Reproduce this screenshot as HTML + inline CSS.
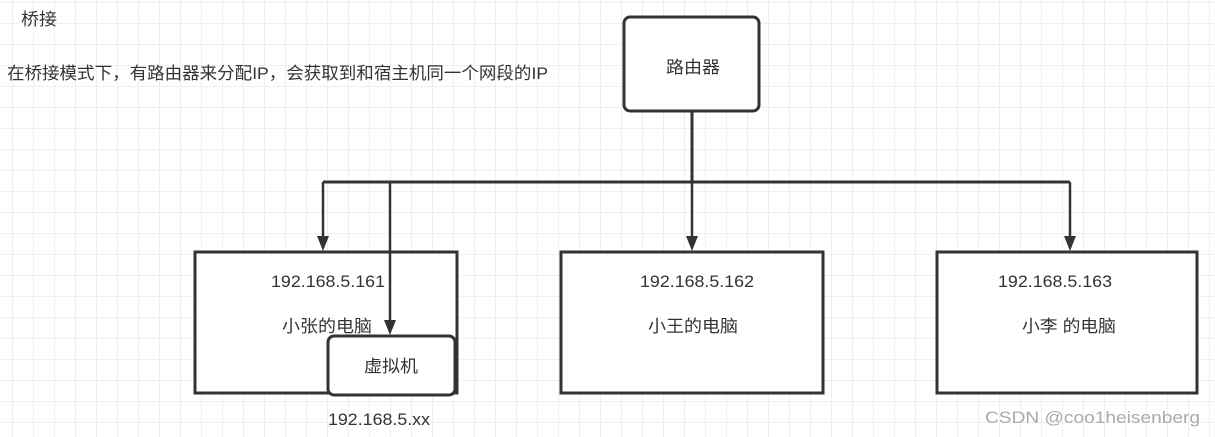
<!DOCTYPE html>
<html><head><meta charset="utf-8"><style>
body{margin:0;width:1215px;height:437px;overflow:hidden;background:#fff;font-family:"Liberation Sans","Noto Sans CJK SC",sans-serif;}
</style></head><body>
<svg width="1215" height="437" xmlns="http://www.w3.org/2000/svg" style="position:absolute;left:0;top:0">
<defs>
<pattern id="g" x="12" y="2" width="21" height="21" patternUnits="userSpaceOnUse">
<path d="M0 0H21M0 0V21" stroke="#e6e6e6" stroke-width="1.3" fill="none"/>
</pattern>
</defs>
<rect width="1215" height="437" fill="url(#g)"/>
<g fill="none" stroke="#333" stroke-width="3">
<rect x="195" y="252" width="262" height="141" fill="#fff"/>
<rect x="561" y="252" width="262" height="141" fill="#fff"/>
<rect x="937" y="252" width="260" height="141" fill="#fff"/>
<rect x="624" y="17" width="135" height="94" rx="6" fill="#fff"/>
<path d="M692 111V182"/>
<path d="M323 182H1070"/>
</g>
<g fill="none" stroke="#333" stroke-width="2.5">
<path d="M323 182V238"/>
<path d="M692 182V238"/>
<path d="M1070 182V238"/>
<path d="M390 182V321"/>
</g>
<g fill="#333">
<path d="M317 236H329L323 251Z"/>
<path d="M686 236H698L692 251Z"/>
<path d="M1064 236H1076L1070 251Z"/>
<path d="M384 320H396L390 335Z"/>
</g>
<rect x="328" y="336" width="127" height="59" rx="6" fill="#fff" stroke="#333" stroke-width="3"/>
<g font-family="Liberation Sans, Noto Sans CJK SC, sans-serif" font-size="17" fill="#333">
<text x="666" y="73" textLength="54" lengthAdjust="spacingAndGlyphs">路由器</text>
<text x="271" y="287" textLength="114" lengthAdjust="spacingAndGlyphs">192.168.5.161</text>
<text x="282" y="332" textLength="90" lengthAdjust="spacingAndGlyphs">小张的电脑</text>
<text x="640" y="287" textLength="114" lengthAdjust="spacingAndGlyphs">192.168.5.162</text>
<text x="648" y="332" textLength="90" lengthAdjust="spacingAndGlyphs">小王的电脑</text>
<text x="998" y="287" textLength="114" lengthAdjust="spacingAndGlyphs">192.168.5.163</text>
<text x="1022" y="332" textLength="94" lengthAdjust="spacingAndGlyphs">小李 的电脑</text>
<text x="364" y="372" textLength="54" lengthAdjust="spacingAndGlyphs">虚拟机</text>
<text x="328" y="425" textLength="102" lengthAdjust="spacingAndGlyphs">192.168.5.xx</text>
<text x="21" y="25" textLength="36" lengthAdjust="spacingAndGlyphs">桥接</text>
<text x="7" y="79" textLength="541" lengthAdjust="spacingAndGlyphs">在桥接模式下，有路由器来分配IP，会获取到和宿主机同一个网段的IP</text>
</g>
<text x="985" y="423" textLength="215" lengthAdjust="spacingAndGlyphs" font-family="Liberation Sans, Noto Sans CJK SC, sans-serif" font-size="17" fill="#aaa">CSDN @coo1heisenberg</text>
</svg>
</body></html>
